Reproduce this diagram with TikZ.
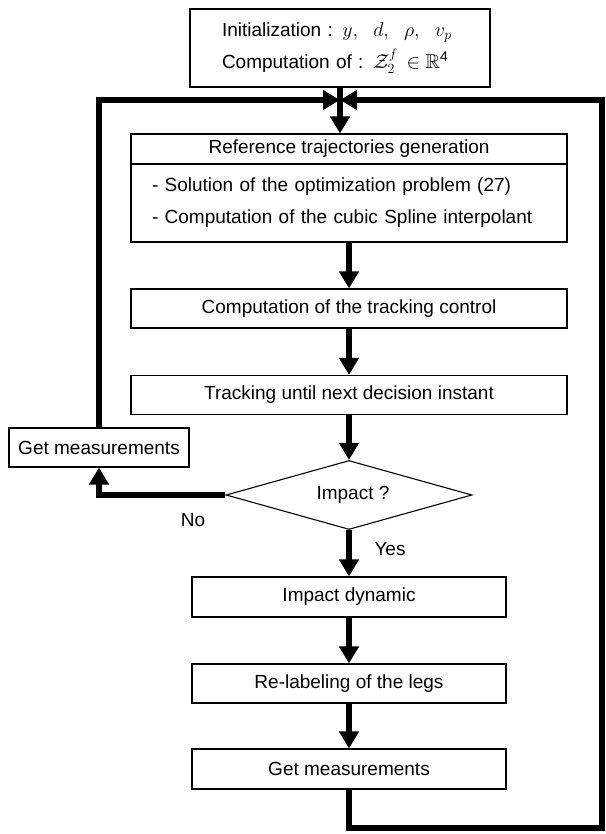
\documentclass[tikz,border=0pt]{standalone}
\usepackage{fix-cm}
\usepackage{amsmath,amssymb}
\usepackage{fontspec}
\setmainfont{Liberation Sans}
\usetikzlibrary{arrows.meta, shapes.geometric}

\newcommand{\bigmath}[1]{{\fontsize{20}{32}\selectfont$#1$}}

\begin{document}
\begin{tikzpicture}[x=1pt, y=-1pt, font=\fontsize{19}{32}\selectfont,
  box/.style={draw, line width=1.1pt, inner sep=0pt, minimum width=436pt, minimum height=39pt},
  lowbox/.style={box, minimum width=314pt},
  flow/.style={line width=6pt, -{Triangle[width=19pt,length=17pt]}}]
  \useasboundingbox (0,0) rectangle (605,834);
  % main column
  \node[box, minimum width=300pt, minimum height=78pt, text width=236pt, inner xsep=32pt,
    align=left] (init) at (340,48)
    {Initialization : \bigmath{y,\ \;d,\ \;\rho,\ \;v_p}\\
     Computation of : \bigmath{\mathcal{Z}_2^f\,\in\mathbb{R}^{\text{4}}}};
  \node[box, minimum height=30pt] (reft) at (349,149) {Reference trajectories generation};
  \node[box, minimum height=78pt, text width=394pt, inner xsep=21pt, align=left] (refb) at (349,203)
    {- Solution of the optimization problem (27)\\- Computation of the cubic Spline interpolant};
  \node[box] (comp) at (349,308.5) {Computation of the tracking control};
  \node[box] (track) at (349,395) {Tracking until next decision instant};
  \node[draw, diamond, line width=1.1pt, inner sep=0pt, aspect=3.5,
    minimum width=246pt, minimum height=69pt] (diam) at (349,495) {\hspace{8pt}Impact ?};
  \node[lowbox, minimum height=40pt] (impact) at (349,597) {Impact dynamic};
  \node[lowbox] (relab) at (349,683.5) {Re-labeling of the legs};
  \node[lowbox, minimum height=40pt] (getm) at (349,769) {Get measurements};
  % side box
  \node[box, minimum width=180pt] (getl) at (99,447.5) {Get measurements};
  \node (nolab) at (193,520) {No};
  \node (yeslab) at (390,549) {Yes};
  \coordinate (junc) at (340,100);
  \coordinate (cbr) at (602,828);
  % connectors
  \draw[flow] (init.south) -- (init.south |- reft.north);
  \draw[flow] (refb.south) -- (comp.north);
  \draw[flow] (comp.south) -- (track.north);
  \draw[flow] (track.south) -- (diam.north);
  \draw[flow] (diam.south) -- (impact.north);
  \draw[flow] (impact.south) -- (relab.north);
  \draw[flow] (relab.south) -- (getm.north);
  \draw[flow] (diam.west) -| (getl.south);
  \draw[flow] (getl.north) |- (junc);
  \draw[flow] (getm.south) |- (cbr) |- (junc);
\end{tikzpicture}
\end{document}
